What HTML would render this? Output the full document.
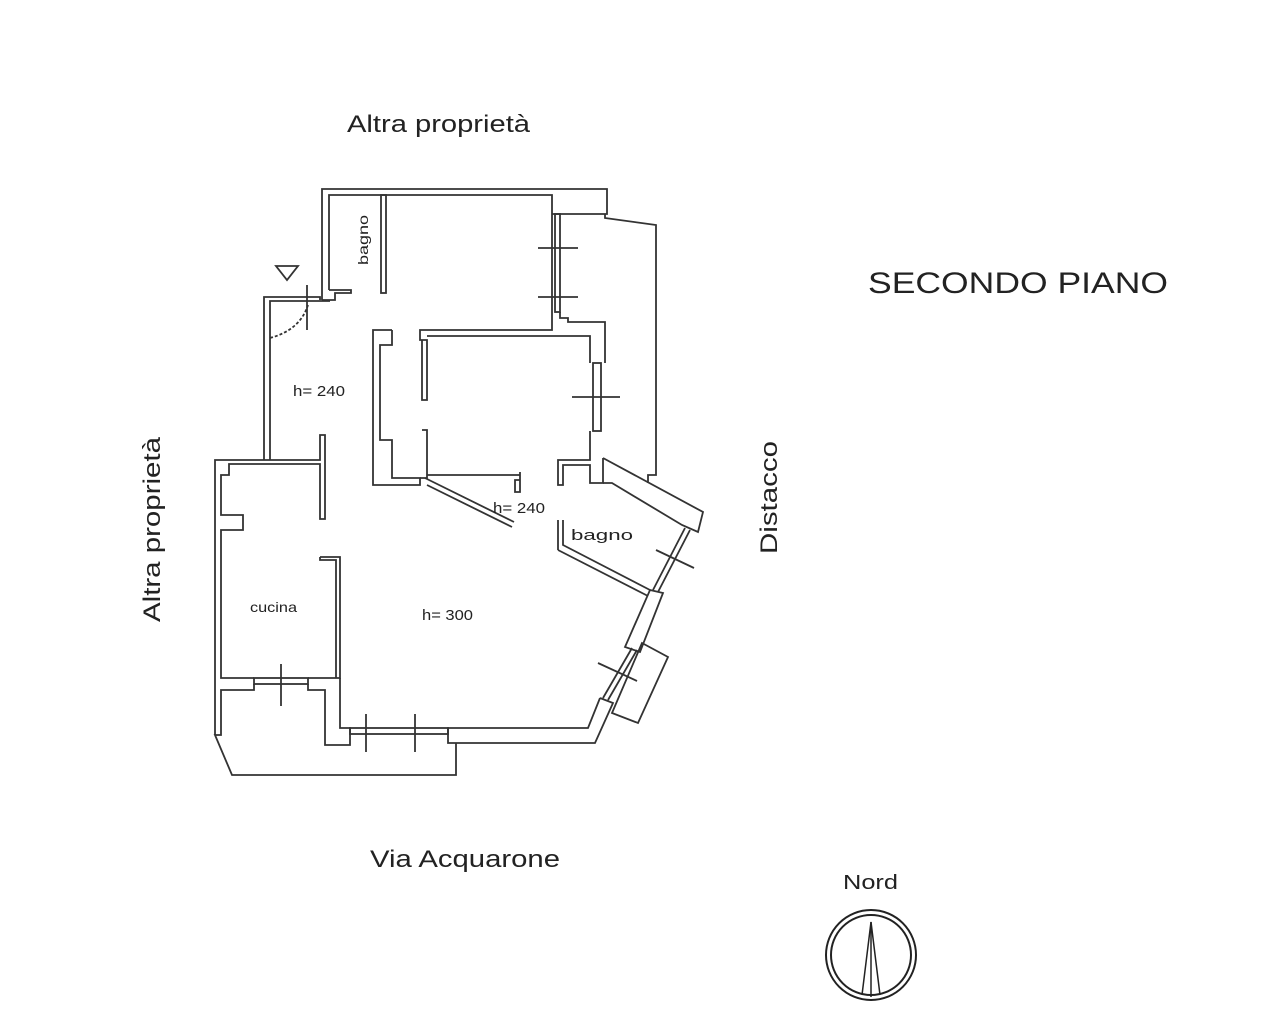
<!DOCTYPE html>
<html><head><meta charset="utf-8"><style>
html,body{margin:0;padding:0;background:#fff;}
svg{display:block;}
text{font-family:"Liberation Sans",sans-serif;fill:#222;}
</style></head><body>
<svg width="1280" height="1026" viewBox="0 0 1280 1026" xmlns="http://www.w3.org/2000/svg">
<g fill="none" stroke="#333" stroke-width="1.8" stroke-linejoin="miter">
<polyline points="322,300 322,189 607,189 607,214 552,214"/>
<polyline points="329,290 329,195 552,195 552,330 420,330 420,336"/>
<polyline points="329,290 351,290 351,293 335,293 335,300 322,300"/>
<rect x="381" y="195" width="5" height="98"/>
<rect x="555" y="214" width="5" height="98"/>
<line x1="538" y1="248" x2="578" y2="248"/>
<line x1="538" y1="297" x2="578" y2="297"/>
<polyline points="560,312 560,318 568,318 568,322 605,322 605,363"/>
<polyline points="605,214 605,218 656,225 656,475 648,475 648,483"/>
<polyline points="392,330 373,330 373,485 420,485 420,478 392,478 392,440 380,440 380,345 392,345 392,330"/>
<polyline points="420,336 420,340 427,340 427,400 422,400 422,340"/>
<polyline points="422,430 427,430 427,478 420,478"/>
<polyline points="427,336 590,336 590,363"/>
<polyline points="427,475 520,475 520,480 515,480 515,492 520,492 520,472"/>
<line x1="427" y1="485" x2="512" y2="527"/>
<line x1="425" y1="478" x2="514" y2="522"/>
<rect x="593" y="363" width="8" height="68"/>
<line x1="572" y1="397" x2="620" y2="397"/>
<polyline points="590,431 590,460 558,460 558,485 563,485 563,465 590,465 590,483 603,483 603,458"/>
<polyline points="603,458 703,512 698,532 682,525 612,483 603,483"/>
<line x1="558" y1="520" x2="558" y2="550"/>
<polyline points="563,520 563,545 650,590"/>
<polyline points="558,550 648,596"/>
<line x1="685" y1="528" x2="653" y2="590"/>
<line x1="690" y1="530" x2="658" y2="592"/>
<line x1="656" y1="550" x2="694" y2="568"/>
<polygon points="650,590 663,593 640,652 625,647"/>
<line x1="632" y1="648" x2="603" y2="698"/>
<line x1="637" y1="650" x2="608" y2="700"/>
<line x1="598" y1="663" x2="637" y2="681"/>
<polygon points="642,643 668,657 638,723 612,713"/>
<polyline points="600,698 613,703 595,743 448,743 448,728 588,728 600,698"/>
<rect x="350" y="728" width="98" height="6"/>
<line x1="366" y1="714" x2="366" y2="752"/>
<line x1="415" y1="714" x2="415" y2="752"/>
<polyline points="264,460 264,297 320,297 320,300"/>
<polyline points="270,460 270,301 330,301"/>
<line x1="307" y1="285" x2="307" y2="330"/>
<path d="M270,338 Q300,330 308,305" stroke-dasharray="3,2"/>
<polygon points="276,266 298,266 287,280"/>
<polyline points="215,735 215,460 320,460 320,435 325,435 325,519 320,519 320,464 229,464 229,475 221,475 221,515 243,515 243,530 221,530 221,678 254,678"/>
<polyline points="320,557 340,557 340,678 308,678"/>
<polyline points="320,557 320,560 336,560 336,678"/>
<rect x="254" y="678" width="54" height="6"/>
<line x1="281" y1="664" x2="281" y2="706"/>
<polyline points="254,684 254,690 221,690 221,735 215,735 232,775 456,775 456,743"/>
<polyline points="308,684 308,690 325,690 325,745 350,745 350,728 340,728 340,678"/>
</g>
<g stroke="#222" stroke-width="2">
<circle cx="871" cy="955" r="45" fill="none"/>
<circle cx="871" cy="955" r="40" fill="none"/>
<polyline points="862,995 871,922 880,995" fill="none" stroke-width="1.5"/>
<line x1="871" y1="922" x2="871" y2="997" stroke-width="1.5"/>
</g>
<text x="347" y="132" font-size="24" textLength="183" lengthAdjust="spacingAndGlyphs">Altra proprietà</text>
<text x="868" y="293" font-size="30" textLength="300" lengthAdjust="spacingAndGlyphs">SECONDO PIANO</text>
<text x="160" y="622" font-size="24" textLength="185" lengthAdjust="spacingAndGlyphs" transform="rotate(-90 160 622)">Altra proprietà</text>
<text x="777" y="554" font-size="24" textLength="113" lengthAdjust="spacingAndGlyphs" transform="rotate(-90 777 554)">Distacco</text>
<text x="370" y="867" font-size="24" textLength="190" lengthAdjust="spacingAndGlyphs">Via Acquarone</text>
<text x="843" y="889" font-size="20" textLength="55" lengthAdjust="spacingAndGlyphs">Nord</text>
<text x="293" y="396" font-size="15" textLength="52" lengthAdjust="spacingAndGlyphs">h= 240</text>
<text x="493" y="513" font-size="15" textLength="52" lengthAdjust="spacingAndGlyphs">h= 240</text>
<text x="422" y="620" font-size="15" textLength="51" lengthAdjust="spacingAndGlyphs">h= 300</text>
<text x="571" y="540" font-size="15" textLength="62" lengthAdjust="spacingAndGlyphs">bagno</text>
<text x="250" y="612" font-size="14" textLength="47" lengthAdjust="spacingAndGlyphs">cucina</text>
<text x="368" y="265" font-size="14" textLength="50" lengthAdjust="spacingAndGlyphs" transform="rotate(-90 368 265)">bagno</text>
</svg>
</body></html>
